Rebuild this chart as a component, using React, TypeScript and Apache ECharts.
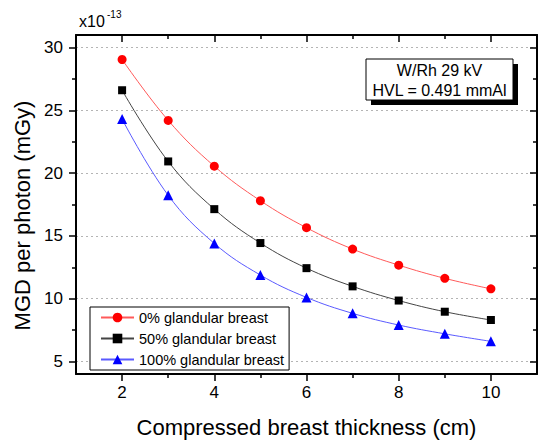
import React, { useEffect, useRef } from "react";
import * as echarts from "echarts";

const thickness = [2, 3, 4, 5, 6, 7, 8, 9, 10];
const gland0 = [29.05, 24.2, 20.55, 17.8, 15.65, 13.95, 12.67, 11.62, 10.78];
const gland50 = [26.6, 20.93, 17.13, 14.43, 12.43, 10.98, 9.85, 8.96, 8.3];
const gland100 = [24.3, 18.23, 14.4, 11.88, 10.1, 8.83, 7.9, 7.2, 6.6];

const seriesNames = ["0% glandular breast", "50% glandular breast", "100% glandular breast"];
const xMajorTicks = [2, 4, 6, 8, 10];
const xMinorTicks = [3, 5, 7, 9];
const yMajorTicks = [5, 10, 15, 20, 25, 30];
const yMinorTicks = [7.5, 12.5, 17.5, 22.5, 27.5];

const FONT = "Arial, 'Liberation Sans', sans-serif";

export default function App() {
  const ref = useRef<HTMLDivElement>(null);
  useEffect(() => {
    if (!ref.current) return;
    const chart = echarts.init(ref.current, undefined, { renderer: "svg" });
    const axisLine = { show: true, lineStyle: { color: "#000", width: 2 } };
    const tickStyle = { color: "#000", width: 1.5 };
    const xBase = { type: "value", min: 1, max: 11, gridIndex: 0 };
    const yBase = { type: "value", min: 4, max: 31, gridIndex: 0 };
    const toPairs = (ys: number[]) => thickness.map((x, i) => [x, ys[i]]);
    const hidden = { show: false };
    chart.setOption({
      animation: false,
      backgroundColor: "#fff",
      grid: { left: 76, right: 1, top: 35, bottom: 66, containLabel: false },
      xAxis: [
        {
          ...xBase,
          position: "bottom",
          axisLine,
          axisTick: { show: true, inside: false, length: 7, customValues: xMajorTicks, lineStyle: tickStyle },
          axisLabel: { show: true, customValues: xMajorTicks, margin: 10, fontSize: 17, color: "#000", fontFamily: FONT },
          splitLine: hidden,
          name: "Compressed breast thickness (cm)",
          nameLocation: "middle",
          nameGap: 42,
          nameTextStyle: { fontSize: 22, color: "#000", fontFamily: FONT },
        },
        {
          ...xBase,
          position: "bottom",
          axisLine: hidden,
          axisTick: { show: true, inside: false, length: 4, customValues: xMinorTicks, lineStyle: tickStyle },
          axisLabel: { show: false, customValues: xMinorTicks },
          splitLine: hidden,
        },
        {
          ...xBase,
          position: "top",
          axisLine,
          axisTick: { show: true, inside: true, length: 7, customValues: xMajorTicks, lineStyle: tickStyle },
          axisLabel: { show: false, customValues: xMajorTicks },
          splitLine: hidden,
        },
        {
          ...xBase,
          position: "top",
          axisLine: hidden,
          axisTick: { show: true, inside: true, length: 4, customValues: xMinorTicks, lineStyle: tickStyle },
          axisLabel: { show: false, customValues: xMinorTicks },
          splitLine: hidden,
        },
      ],
      yAxis: [
        {
          ...yBase,
          position: "left",
          axisLine,
          axisTick: { show: true, inside: false, length: 7, customValues: yMajorTicks, lineStyle: tickStyle },
          axisLabel: { show: true, customValues: yMajorTicks, margin: 13, fontSize: 17, color: "#000", fontFamily: FONT },
          splitLine: { show: true, lineStyle: { color: "#b4b4b4", type: [2, 3], width: 1 } },
        },
        {
          ...yBase,
          position: "left",
          axisLine: hidden,
          axisTick: { show: true, inside: false, length: 4, customValues: yMinorTicks, lineStyle: tickStyle },
          axisLabel: { show: false, customValues: yMinorTicks },
          splitLine: hidden,
        },
        {
          ...yBase,
          position: "right",
          axisLine,
          axisTick: { show: true, inside: true, length: 7, customValues: yMajorTicks, lineStyle: tickStyle },
          axisLabel: { show: false, customValues: yMajorTicks },
          splitLine: hidden,
        },
        {
          ...yBase,
          position: "right",
          axisLine: hidden,
          axisTick: { show: true, inside: true, length: 4, customValues: yMinorTicks, lineStyle: tickStyle },
          axisLabel: { show: false, customValues: yMinorTicks },
          splitLine: hidden,
        },
      ],
      legend: {
        orient: "vertical",
        left: 90,
        top: 307,
        itemWidth: 33,
        itemHeight: 12,
        itemGap: 6,
        padding: [3, 5, 3, 10],
        borderColor: "#000",
        borderWidth: 1,
        backgroundColor: "#fff",
        textStyle: { fontSize: 14.5, color: "#000", fontFamily: FONT },
        data: seriesNames,
      },
      series: [
        {
          name: seriesNames[0],
          type: "line",
          data: toPairs(gland0),
          smooth: 0.4,
          symbol: "circle",
          symbolSize: 9,
          itemStyle: { color: "#ff0000" },
          lineStyle: { color: "#ff5a5a", width: 1 },
        },
        {
          name: seriesNames[1],
          type: "line",
          data: toPairs(gland50),
          smooth: 0.4,
          symbol: "rect",
          symbolSize: 8,
          itemStyle: { color: "#000000" },
          lineStyle: { color: "#444444", width: 1 },
        },
        {
          name: seriesNames[2],
          type: "line",
          data: toPairs(gland100),
          smooth: 0.4,
          symbol: "triangle",
          symbolSize: 10,
          itemStyle: { color: "#0000ff" },
          lineStyle: { color: "#5a5aff", width: 1 },
        },
      ],
      graphic: [
        {
          type: "text",
          left: 79,
          top: 13,
          style: { text: "x10", fontSize: 16, fill: "#000", fontFamily: FONT },
        },
        {
          type: "text",
          left: 107,
          top: 9,
          style: { text: "-13", fontSize: 10, fill: "#000", fontFamily: FONT },
        },
        {
          type: "text",
          x: 22,
          y: 215.5,
          rotation: Math.PI / 2,
          style: {
            text: "MGD per photon (mGy)",
            fontSize: 22,
            fill: "#000",
            fontFamily: FONT,
            align: "center",
            verticalAlign: "middle",
          },
        },
        {
          type: "group",
          x: 366,
          y: 59,
          children: [
            { type: "rect", shape: { x: 5, y: 5, width: 147, height: 41 }, style: { fill: "#000" } },
            { type: "rect", shape: { x: 0, y: 0, width: 147, height: 41 }, style: { fill: "#fff", stroke: "#000", lineWidth: 1 } },
            {
              type: "text",
              x: 73.5,
              y: 11.5,
              style: { text: "W/Rh 29 kV", fontSize: 16, fill: "#000", fontFamily: FONT, align: "center", verticalAlign: "middle" },
            },
            {
              type: "text",
              x: 73.5,
              y: 31,
              style: { text: "HVL = 0.491 mmAl", fontSize: 16, fill: "#000", fontFamily: FONT, align: "center", verticalAlign: "middle" },
            },
          ],
        },
      ],
    });
    return () => chart.dispose();
  }, []);
  return (
    <div
      ref={ref}
      style={{ position: "absolute", left: 0, top: 0, width: 538, height: 443 }}
    />
  );
}
